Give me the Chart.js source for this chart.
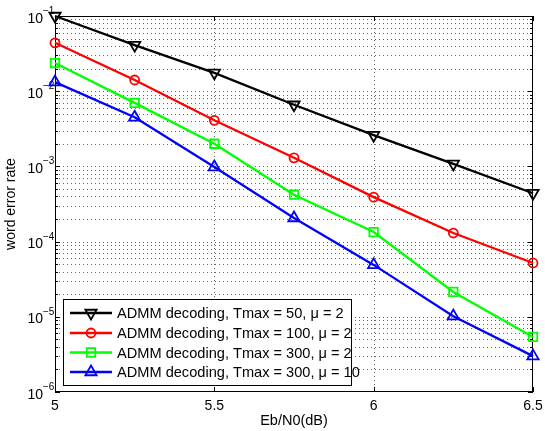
<!DOCTYPE html>
<html><head><meta charset="utf-8">
<script src="https://cdn.jsdelivr.net/npm/chart.js@4"></script>
<style>html,body{margin:0;padding:0;background:#fff}</style>
</head><body>
<canvas id="c" width="545" height="431" style="width:545px;height:431px;display:block"></canvas>
<script>
// ---- data ----
const ebn0 = [5, 5.25, 5.5, 5.75, 6, 6.25, 6.5];
const werT50mu2 = [0.1, 0.041, 0.0175, 0.0066, 0.0026, 0.00108, 0.00044];
const werT100mu2 = [0.044, 0.0141, 0.0041, 0.0013, 0.00039, 0.00013, 0.000052];
const werT300mu2 = [0.0237, 0.0070, 0.0020, 0.00042, 0.000134, 0.0000214, 0.0000054];
const werT300mu10 = [0.0132, 0.0045, 0.00098, 0.000206, 0.000049, 0.0000102, 0.0000030];
const seriesLabels = [
  'ADMM decoding, Tmax = 50, \u03bc = 2',
  'ADMM decoding, Tmax = 100, \u03bc = 2',
  'ADMM decoding, Tmax = 300, \u03bc = 2',
  'ADMM decoding, Tmax = 300, \u03bc = 10'
];
const xTickValues = [5, 5.5, 6, 6.5];
const xTickLabels = ['5', '5.5', '6', '6.5'];
const yDecadeExponents = [-6, -5, -4, -3, -2, -1];
const xTitle = 'Eb/N0(dB)';
const yTitle = 'word error rate';

const FONT = '"Liberation Sans", Arial, sans-serif';
const colors = ['#000000', '#ff0000', '#00ff00', '#0000ff'];
const styles = [
  {pointStyle: 'triangle', rotation: 180, radius: 6.5},
  {pointStyle: 'circle', rotation: 0, radius: 4.5},
  {pointStyle: 'rect', rotation: 0, radius: 6},
  {pointStyle: 'triangle', rotation: 0, radius: 6.5}
];
const seriesValues = [werT50mu2, werT100mu2, werT300mu2, werT300mu10];

function drawMarker(ctx, st, x, y, color) {
  const r = st.radius;
  ctx.save();
  ctx.strokeStyle = color; ctx.lineWidth = 1.8;
  ctx.beginPath();
  if (st.pointStyle === 'circle') {
    ctx.arc(x, y, r, 0, Math.PI * 2);
  } else if (st.pointStyle === 'rect') {
    const s = r * Math.SQRT1_2;
    ctx.rect(x - s, y - s, 2 * s, 2 * s);
  } else {
    let rad = st.rotation * Math.PI / 180;
    ctx.moveTo(x + Math.sin(rad) * r, y - Math.cos(rad) * r);
    rad += 2 * Math.PI / 3;
    ctx.lineTo(x + Math.sin(rad) * r, y - Math.cos(rad) * r);
    rad += 2 * Math.PI / 3;
    ctx.lineTo(x + Math.sin(rad) * r, y - Math.cos(rad) * r);
    ctx.closePath();
  }
  ctx.stroke();
  ctx.restore();
}

const matlabAxes = {
  id: 'matlabAxes',
  beforeDatasetsDraw(chart) {
    const {ctx, chartArea: a, scales: {x, y}} = chart;
    ctx.save();
    // dotted grid
    ctx.strokeStyle = 'rgba(0,0,0,0.6)';
    ctx.lineWidth = 1;
    ctx.setLineDash([1, 3]);
    ctx.beginPath();
    xTickValues.forEach(v => {
      const px = Math.round(x.getPixelForValue(v)) + 0.5;
      if (px > a.left + 2 && px < a.right - 2) { ctx.moveTo(px, a.top); ctx.lineTo(px, a.bottom); }
    });
    yDecadeExponents.forEach(e => {
      for (let m = 1; m <= 9; m++) {
        const v = m * Math.pow(10, e);
        if (v > y.max * 1.0001) continue;
        const py = Math.round(y.getPixelForValue(v)) + 0.5;
        if (py > a.top + 2 && py < a.bottom - 2) { ctx.moveTo(a.left, py); ctx.lineTo(a.right, py); }
      }
    });
    ctx.stroke();
    ctx.setLineDash([]);
    // ticks (inward)
    ctx.strokeStyle = '#000';
    ctx.beginPath();
    xTickValues.forEach(v => {
      const px = Math.round(x.getPixelForValue(v)) + 0.5;
      ctx.moveTo(px, a.bottom); ctx.lineTo(px, a.bottom - 5);
      ctx.moveTo(px, a.top); ctx.lineTo(px, a.top + 5);
    });
    yDecadeExponents.forEach(e => {
      for (let m = 1; m <= 9; m++) {
        const v = m * Math.pow(10, e);
        if (v > y.max * 1.0001) continue;
        const py = Math.round(y.getPixelForValue(v)) + 0.5;
        const len = m === 1 ? 5 : 3;
        ctx.moveTo(a.left, py); ctx.lineTo(a.left + len, py);
        ctx.moveTo(a.right, py); ctx.lineTo(a.right - len, py);
      }
    });
    ctx.stroke();
    // box
    ctx.lineWidth = 1;
    ctx.strokeRect(Math.round(a.left) + 0.5, Math.round(a.top) + 0.5,
                   Math.round(a.right - a.left) - 1, Math.round(a.bottom - a.top) - 1);
    // tick labels
    ctx.fillStyle = '#000';
    ctx.font = '14px ' + FONT;
    ctx.textAlign = 'center';
    ctx.textBaseline = 'alphabetic';
    xTickValues.forEach((v, i) => {
      ctx.fillText(xTickLabels[i], x.getPixelForValue(v), a.bottom + 18);
    });
    yDecadeExponents.forEach(e => {
      const py = y.getPixelForValue(Math.pow(10, e));
      ctx.font = '14px ' + FONT;
      ctx.textAlign = 'right';
      ctx.fillText('10', 43, py + 6.5);
      ctx.font = '10px ' + FONT;
      ctx.textAlign = 'left';
      ctx.fillText('\u2212' + Math.abs(e), 43, py - 2);
    });
    // axis titles
    ctx.font = '14.5px ' + FONT;
    ctx.textAlign = 'center';
    ctx.fillText(xTitle, (a.left + a.right) / 2, 424.5);
    ctx.font = '14px ' + FONT;
    ctx.save();
    ctx.translate(15, (a.top + a.bottom) / 2);
    ctx.rotate(-Math.PI / 2);
    ctx.fillText(yTitle, 0, 0);
    ctx.restore();
    ctx.restore();
  },
  afterDraw(chart) {
    const {ctx} = chart;
    ctx.save();
    // legend box
    ctx.fillStyle = '#fff';
    ctx.fillRect(63, 299, 288, 86);
    ctx.strokeStyle = '#000'; ctx.lineWidth = 1;
    ctx.strokeRect(63.5, 299.5, 288, 86);
    const rows = [313, 333, 352.5, 372];
    ctx.font = '14.6px ' + FONT;
    ctx.textAlign = 'left';
    ctx.textBaseline = 'middle';
    chart.data.datasets.forEach((ds, i) => {
      const yy = rows[i];
      ctx.strokeStyle = colors[i]; ctx.lineWidth = 2.3;
      ctx.beginPath(); ctx.moveTo(70, yy); ctx.lineTo(112, yy); ctx.stroke();
      drawMarker(ctx, styles[i], 91, yy, colors[i]);
      ctx.fillStyle = '#000';
      ctx.fillText(ds.label, 117, yy + 1);
    });
    ctx.restore();
  }
};

const datasets = seriesValues.map((vals, i) => ({
  label: seriesLabels[i],
  data: ebn0.map((xv, j) => ({x: xv, y: vals[j]})),
  borderColor: colors[i],
  backgroundColor: 'rgba(0,0,0,0)',
  borderWidth: 2.3,
  pointStyle: styles[i].pointStyle,
  rotation: styles[i].rotation,
  pointRotation: styles[i].rotation,
  pointRadius: styles[i].radius,
  pointBorderWidth: 1.8,
  pointBorderColor: colors[i],
  pointBackgroundColor: 'rgba(0,0,0,0)',
  tension: 0,
  clip: false
}));

new Chart(document.getElementById('c'), {
  type: 'line',
  data: {datasets},
  options: {
    responsive: false,
    devicePixelRatio: 1,
    animation: false,
    events: [],
    layout: {padding: {top: 16, right: 12, left: 0, bottom: 0}},
    plugins: {legend: {display: false}, tooltip: {enabled: false}, title: {display: false}},
    scales: {
      x: {
        type: 'linear', min: 5, max: 6.5,
        ticks: {display: false},
        grid: {display: false}, border: {display: false},
        afterFit: s => { s.height = 39; }
      },
      y: {
        type: 'logarithmic', min: 1e-6, max: 1e-1,
        ticks: {display: false},
        grid: {display: false}, border: {display: false},
        afterFit: s => { s.width = 55; }
      }
    }
  },
  plugins: [matlabAxes]
});
</script>
</body></html>
